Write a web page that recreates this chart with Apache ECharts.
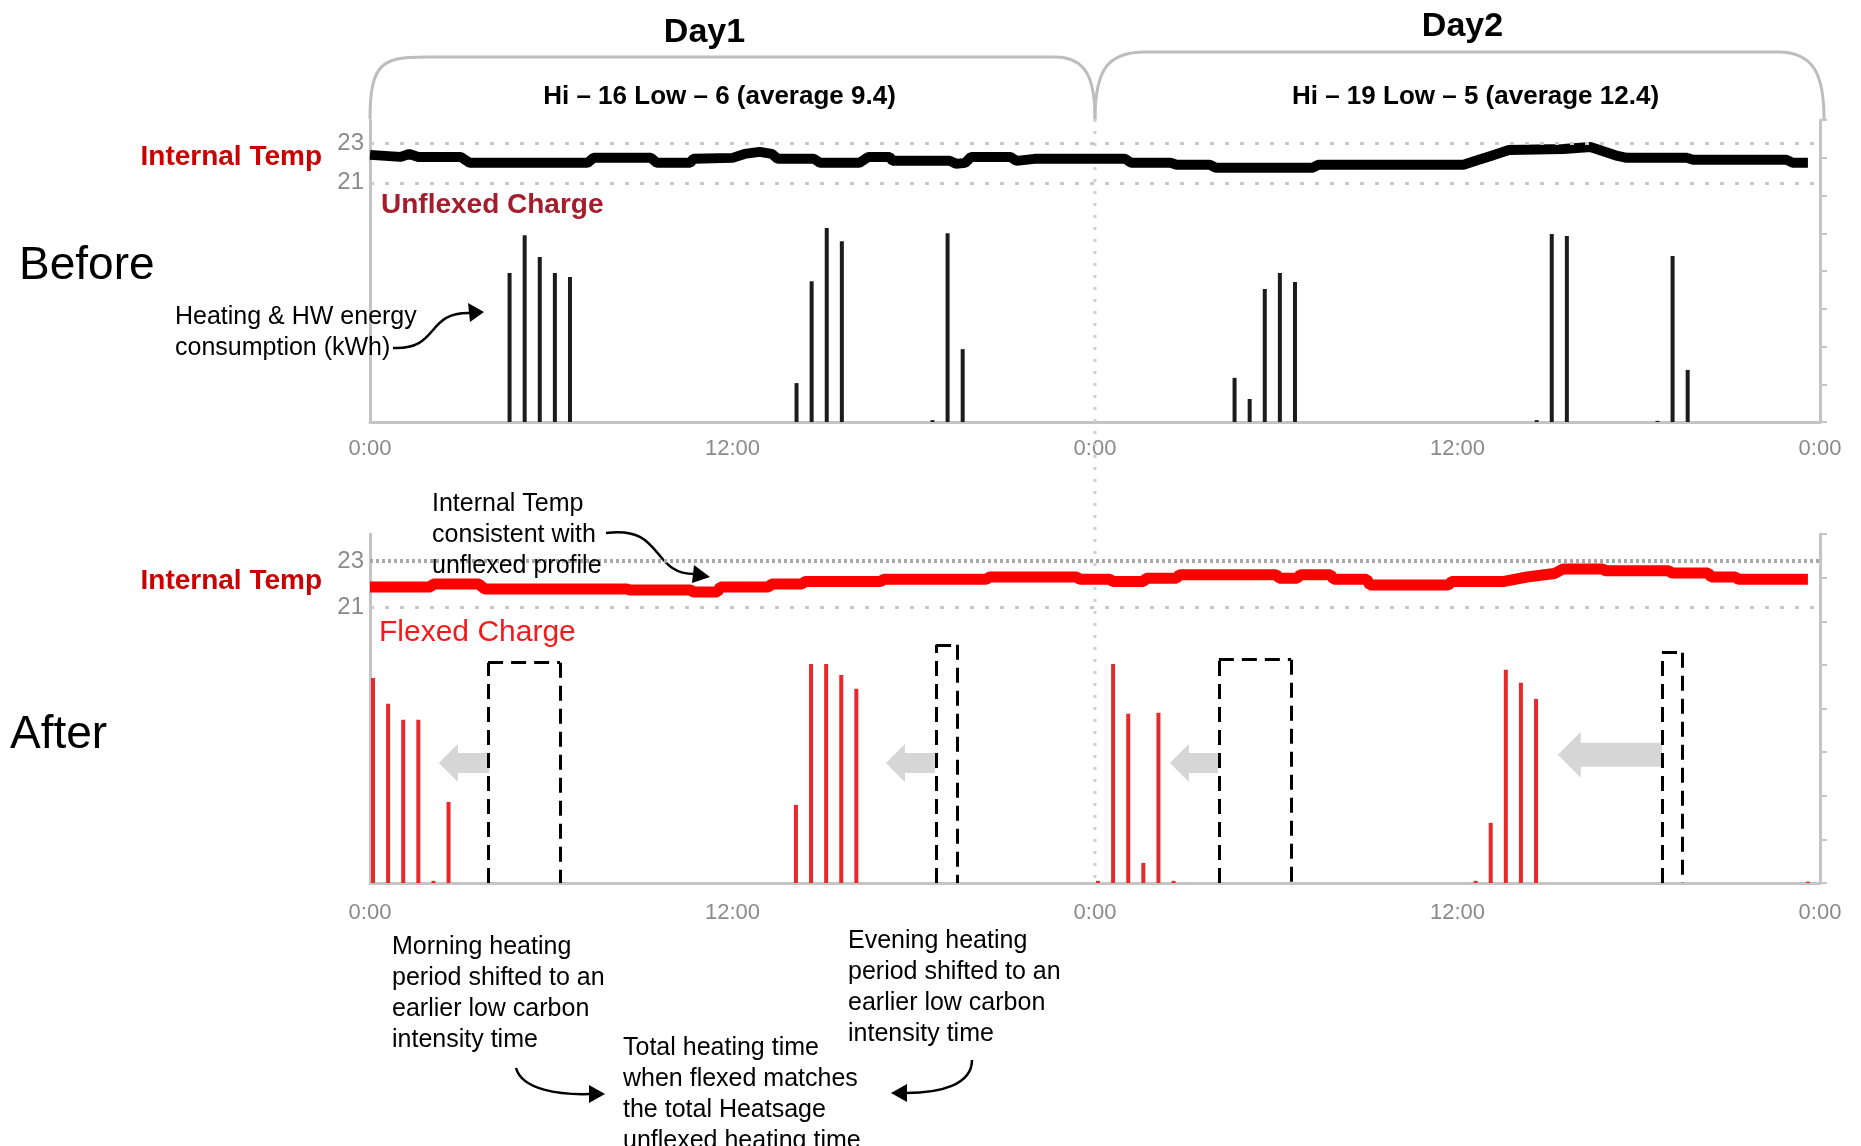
<!DOCTYPE html>
<html><head><meta charset="utf-8">
<script src="https://cdn.jsdelivr.net/npm/echarts@6/dist/echarts.min.js"></script>
<style>html,body{margin:0;padding:0;background:#fff}#c{width:1861px;height:1146px}</style>
</head><body><div id="c"></div>
<script>
// ---- data (hours from Day1 0:00) ----
const xTickLabels = ['0:00', '12:00', '0:00', '12:00', '0:00'];
const tempTickLabels = [21, 23];
const dayTitles = ['Day1', 'Day2'];
const daySummaries = ['Hi \u2013 16 Low \u2013 6 (average 9.4)', 'Hi \u2013 19 Low \u2013 5 (average 12.4)'];

// internal temperature, before (unflexed)
const beforeTemp = [
  [0,22.4],[1,22.3],[1.3,22.45],[1.6,22.3],[3,22.3],[3.3,22.0],[7.2,22.0],[7.4,22.25],[9.3,22.25],[9.5,22.0],
  [10.6,22.0],[10.7,22.2],[12.0,22.25],[12.4,22.45],[12.9,22.55],[13.3,22.45],[13.5,22.2],[14.7,22.2],[14.9,22.0],
  [16.2,22.0],[16.5,22.3],[17.2,22.3],[17.3,22.1],[19.2,22.1],[19.4,21.95],[19.7,22.0],[19.9,22.3],[21.2,22.3],
  [21.4,22.1],[22,22.2],[25,22.2],[25.2,22.0],[26.5,22.0],[26.7,21.9],[27.8,21.9],[28.0,21.75],[31.2,21.75],
  [31.4,21.9],[36.2,21.9],[36.6,22.1],[37.1,22.35],[37.7,22.65],[39.5,22.7],[40.4,22.8],[40.8,22.6],[41.3,22.35],
  [41.6,22.25],[43.6,22.25],[43.8,22.15],[46.9,22.15],[47.1,22.0],[47.6,22.0]
];
// internal temperature, after (flexed)
const afterTemp = [
  [0,21.87],[2,21.87],[2.1,22.0],[3.6,22.0],[3.8,21.78],[8.5,21.78],[8.6,21.74],[10.6,21.74],[10.7,21.65],
  [11.5,21.65],[11.6,21.87],[13.2,21.87],[13.3,22.0],[14.3,22.0],[14.4,22.1],[16.9,22.1],[17.0,22.2],[20.4,22.2],
  [20.5,22.3],[23.4,22.3],[23.5,22.2],[24.5,22.2],[24.6,22.1],[25.6,22.1],[25.7,22.25],[26.7,22.25],[26.8,22.4],
  [30,22.4],[30.1,22.25],[30.7,22.25],[30.8,22.4],[31.8,22.4],[31.9,22.2],[33,22.2],[33.1,21.95],[35.7,21.95],
  [35.8,22.1],[37.5,22.1],[38.3,22.3],[39.2,22.45],[39.5,22.65],[40.8,22.65],[40.9,22.57],[43,22.57],[43.1,22.47],
  [44.3,22.47],[44.4,22.3],[45.2,22.3],[45.3,22.2],[47.6,22.2]
];
// heating & HW energy consumption (kWh), unflexed
const unflexedCharge = [
  [4.62,3.95],[5.12,4.95],[5.62,4.37],[6.12,3.95],[6.62,3.84],
  [14.12,1.03],[14.62,3.73],[15.12,5.14],[15.62,4.79],
  [18.62,0.05],[19.12,5.0],[19.62,1.93],
  [28.62,1.17],[29.12,0.61],[29.62,3.52],[30.12,3.95],[30.62,3.71],
  [38.62,0.05],[39.12,4.98],[39.62,4.93],
  [42.62,0.03],[43.12,4.40],[43.62,1.38]
];
// flexed
const flexedCharge = [
  [0.1,4.70],[0.6,4.11],[1.1,3.74],[1.6,3.74],[2.1,0.05],[2.6,1.86],
  [14.1,1.79],[14.6,5.02],[15.1,5.02],[15.6,4.77],[16.1,4.45],
  [24.1,0.05],[24.6,5.02],[25.1,3.88],[25.6,0.46],[26.1,3.90],[26.6,0.05],
  [36.6,0.05],[37.1,1.38],[37.6,4.89],[38.1,4.59],[38.6,4.22],
  [47.6,0.03]
];
// original (unflexed) heating windows: [startHour, endHour, topValue]
const shiftedWindows = [[3.91,6.29,5.05],[18.74,19.43,5.46],[28.10,30.49,5.12],[42.77,43.43,5.28]];
// shift arrows: [tailHour, tipHour, value, shaftHalf, headHalf, headLen]
const shiftArrows = [[3.95,2.28,2.75,10,19,19],[18.7,17.08,2.75,10,19,19],[28.07,26.48,2.75,10,19,19],[42.77,39.32,2.94,12,23,23]];

const FONT = '"Liberation Sans", Arial, sans-serif';
const chart = echarts.init(document.getElementById('c'), null, {renderer: 'canvas'});

function xAxisCfg(gi, margin) {
  return {
    type: 'value', gridIndex: gi, min: 0, max: 48, interval: 12,
    axisLine: {show: true, onZero: false, lineStyle: {color: '#c4c4c4', width: 3}},
    axisTick: {show: false}, splitLine: {show: false},
    axisLabel: {color: '#8a8a8a', fontSize: 22, fontFamily: FONT, margin: margin,
      formatter: v => xTickLabels[Math.round(v / 12)]}
  };
}
function tempAxisCfg(gi, max) {
  return {
    type: 'value', gridIndex: gi, position: 'left', min: 9, max: max, interval: 1,
    axisLine: {show: true, lineStyle: {color: '#c4c4c4', width: 3}},
    axisTick: {show: false}, splitLine: {show: false},
    axisLabel: {color: '#8a8a8a', fontSize: 24, fontFamily: FONT, margin: 6,
      formatter: v => tempTickLabels.indexOf(Math.round(v * 100) / 100) >= 0 ? String(Math.round(v)) : ''}
  };
}
function chargeAxisCfg(gi) {
  return {
    type: 'value', gridIndex: gi, position: 'right', min: 0, max: 8, interval: 1,
    axisLine: {show: true, lineStyle: {color: '#c4c4c4', width: 3}},
    axisTick: {show: true, length: 7, lineStyle: {color: '#c4c4c4', width: 2}},
    axisLabel: {show: false}, splitLine: {show: false}
  };
}
const dotGrid = {color: '#c8c8c8', type: [4, 11], width: 3};

const boxSegments = [];
shiftedWindows.forEach(w => {
  boxSegments.push([{coord: [w[0], 0]}, {coord: [w[0], w[2]]}]);
  boxSegments.push([{coord: [w[0], w[2]]}, {coord: [w[1], w[2]]}]);
  boxSegments.push([{coord: [w[1], w[2]]}, {coord: [w[1], 0]}]);
});

chart.setOption({
  animation: false,
  backgroundColor: '#fff',
  grid: [
    {left: 370, right: 41, top: 120, height: 302},
    {left: 370, right: 41, top: 534, height: 349}
  ],
  xAxis: [xAxisCfg(0, 16), xAxisCfg(1, 19)],
  yAxis: [tempAxisCfg(0, 24.15), chargeAxisCfg(0), tempAxisCfg(1, 24.17), chargeAxisCfg(1)],
  series: [
    {type: 'line', name: 'Internal Temp (before)', xAxisIndex: 0, yAxisIndex: 0, data: beforeTemp,
      showSymbol: false, lineStyle: {color: '#000', width: 10}, z: 4,
      markLine: {silent: true, symbol: 'none', label: {show: false}, lineStyle: dotGrid,
        data: [{yAxis: 23}, {yAxis: 21}]}},
    {type: 'bar', name: 'Unflexed Charge', xAxisIndex: 0, yAxisIndex: 1, data: unflexedCharge,
      barWidth: 4, itemStyle: {color: '#1c1c1c'}, z: 3},
    {type: 'line', name: 'Internal Temp (after)', xAxisIndex: 1, yAxisIndex: 2, data: afterTemp,
      showSymbol: false, lineStyle: {color: '#ff0000', width: 11}, z: 4,
      markLine: {silent: true, symbol: 'none', label: {show: false},
        data: [{yAxis: 23, lineStyle: {color: '#a8a8a8', type: [3, 3], width: 4}},
               {yAxis: 21, lineStyle: dotGrid}]}},
    {type: 'bar', name: 'Flexed Charge', xAxisIndex: 1, yAxisIndex: 3, data: flexedCharge,
      barWidth: 4, itemStyle: {color: '#e8292c'}, z: 3,
      markLine: {silent: true, symbol: 'none', label: {show: false},
        lineStyle: {color: '#000', type: [15, 8], width: 3}, data: boxSegments}}
  ]
});

// ---- annotations positioned through the axes ----
const px = (xi, yi, x, y) => chart.convertToPixel({xAxisIndex: xi, yAxisIndex: yi}, [x, y]);
const g = [];
const topL = px(0, 1, 0, 8), topM = px(0, 1, 24, 8), topR = px(0, 1, 48, 8);
const botM = px(1, 3, 24, 0);
const bracketStyle = {stroke: '#bdbdbd', lineWidth: 3, fill: null};
const yb = topL[1] - 1;
// Day1 bracket
g.push({type: 'bezierCurve', shape: {x1: topL[0], y1: yb, cpx1: topL[0], cpy1: 62, cpx2: topL[0] + 13, cpy2: 57, x2: topL[0] + 55, y2: 57}, style: bracketStyle});
g.push({type: 'line', shape: {x1: topL[0] + 55, y1: 57, x2: topM[0] - 40, y2: 57}, style: bracketStyle});
g.push({type: 'bezierCurve', shape: {x1: topM[0] - 40, y1: 57, cpx1: topM[0] - 8, cpy1: 57, cpx2: topM[0], cpy2: 80, x2: topM[0], y2: yb}, style: bracketStyle});
// Day2 bracket
g.push({type: 'bezierCurve', shape: {x1: topM[0], y1: yb, cpx1: topM[0], cpy1: 68, cpx2: topM[0] + 14, cpy2: 52, x2: topM[0] + 50, y2: 52}, style: bracketStyle});
g.push({type: 'line', shape: {x1: topM[0] + 50, y1: 52, x2: topR[0] - 42, y2: 52}, style: bracketStyle});
g.push({type: 'bezierCurve', shape: {x1: topR[0] - 42, y1: 52, cpx1: topR[0] - 6, cpy1: 52, cpx2: topR[0] + 4, cpy2: 75, x2: topR[0] + 4, y2: yb}, style: bracketStyle});
// day boundary dotted line
g.push({type: 'line', z: 1, shape: {x1: topM[0], y1: yb, x2: botM[0], y2: botM[1]}, style: {stroke: '#cfcfcf', lineWidth: 3, lineDash: [3, 9]}});
// grey shift arrows
shiftArrows.forEach(a => {
  const tail = px(1, 3, a[0], a[2]), tip = px(1, 3, a[1], a[2]);
  const cy = tip[1], tx = tip[0], hx = tx + a[5];
  g.push({type: 'polygon', z: 2, shape: {points: [[tx, cy], [hx, cy - a[4]], [hx, cy - a[3]], [tail[0], cy - a[3]], [tail[0], cy + a[3]], [hx, cy + a[3]], [hx, cy + a[4]]]}, style: {fill: '#d6d6d6'}});
});
// texts
const txt = (x, y, text, font, fill, align, va, lh) => g.push({type: 'text', x: x, y: y, z: 10,
  style: {text: text, font: font, fill: fill, align: align, verticalAlign: va || 'middle', lineHeight: lh || undefined}});
txt((topL[0] + topM[0]) / 2 - 28, 33, dayTitles[0], 'bold 34px ' + FONT, '#000', 'center');
txt((topM[0] + topR[0]) / 2 + 5, 27, dayTitles[1], 'bold 34px ' + FONT, '#000', 'center');
txt((topL[0] + topM[0]) / 2 - 13, 97, daySummaries[0], 'bold 26px ' + FONT, '#000', 'center');
txt((topM[0] + topR[0]) / 2 + 18, 97, daySummaries[1], 'bold 26px ' + FONT, '#000', 'center');
txt(322, 157, 'Internal Temp', 'bold 28px ' + FONT, '#cc0000', 'right');
txt(322, 581, 'Internal Temp', 'bold 28px ' + FONT, '#cc0000', 'right');
txt(381, 205, 'Unflexed Charge', 'bold 28px ' + FONT, '#a51c2c', 'left');
txt(379, 633, 'Flexed Charge', '30px ' + FONT, '#f21a1a', 'left');
txt(19, 266, 'Before', '46px ' + FONT, '#000', 'left');
txt(10, 735, 'After', '46px ' + FONT, '#000', 'left');
const AF = '25px ' + FONT;
txt(175, 302, 'Heating & HW energy\nconsumption (kWh)', AF, '#000', 'left', 'top', 31);
txt(432, 489, 'Internal Temp\nconsistent with\nunflexed profile', AF, '#000', 'left', 'top', 31);
txt(392, 932, 'Morning heating\nperiod shifted to an\nearlier low carbon\nintensity time', AF, '#000', 'left', 'top', 31);
txt(848, 926, 'Evening heating\nperiod shifted to an\nearlier low carbon\nintensity time', AF, '#000', 'left', 'top', 31);
txt(623, 1033, 'Total heating time\nwhen flexed matches\nthe total Heatsage\nunflexed heating time', AF, '#000', 'left', 'top', 31);
// curved black arrows
const cs = {stroke: '#000', lineWidth: 2.5, fill: null};
g.push({type: 'bezierCurve', shape: {x1: 393, y1: 348, cpx1: 440, cpy1: 350, cpx2: 425, cpy2: 312, x2: 470, y2: 313}, style: cs});
g.push({type: 'polygon', shape: {points: [[484, 312], [468, 303], [470, 322]]}, style: {fill: '#000'}});
g.push({type: 'bezierCurve', shape: {x1: 606, y1: 533, cpx1: 665, cpy1: 525, cpx2: 650, cpy2: 575, x2: 696, y2: 574}, style: cs});
g.push({type: 'polygon', shape: {points: [[710, 577], [694, 565], [692, 583]]}, style: {fill: '#000'}});
g.push({type: 'bezierCurve', shape: {x1: 516, y1: 1068, cpx1: 522, cpy1: 1090, cpx2: 560, cpy2: 1095, x2: 590, y2: 1094}, style: cs});
g.push({type: 'polygon', shape: {points: [[605, 1094], [589, 1085], [589, 1103]]}, style: {fill: '#000'}});
g.push({type: 'bezierCurve', shape: {x1: 972, y1: 1060, cpx1: 972, cpy1: 1085, cpx2: 940, cpy2: 1093, x2: 906, y2: 1093}, style: cs});
g.push({type: 'polygon', shape: {points: [[891, 1093], [907, 1084], [907, 1102]]}, style: {fill: '#000'}});

chart.setOption({graphic: {elements: g}});
</script></body></html>
